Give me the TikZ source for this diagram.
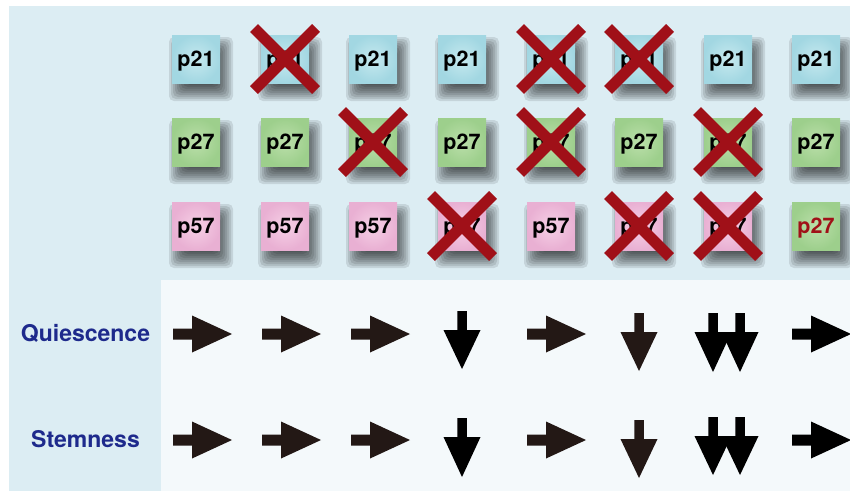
\documentclass[tikz,border=0pt]{standalone}
\usepackage{fontspec}
\setmainfont{TeX Gyre Heros}
\usetikzlibrary{calc}
\definecolor{bgblue}{HTML}{DCEDF3}
\definecolor{bglight}{HTML}{F4F9FB}
\definecolor{crossred}{RGB}{160,16,24}
\definecolor{labblue}{HTML}{1E2A8C}
\definecolor{arrdark}{HTML}{231815}
\definecolor{cyanin}{HTML}{C6E9EF}
\definecolor{cyanout}{HTML}{A2D7E2}
\definecolor{greenin}{HTML}{BBDFAA}
\definecolor{greenout}{HTML}{9DCF8C}
\definecolor{pinkin}{HTML}{F6D0E6}
\definecolor{pinkout}{HTML}{E9B0D3}
\tikzset{
  box/.style={shade, shading=radial, minimum width=48pt, minimum height=48pt, inner sep=0pt,
    text height=18pt, text depth=4pt, font=\fontsize{21.5}{25}\selectfont\bfseries},
  cyanbox/.style={box, inner color=cyanin, outer color=cyanout},
  greenbox/.style={box, inner color=greenin, outer color=greenout},
  pinkbox/.style={box, inner color=pinkin, outer color=pinkout},
  crossline/.style={draw=crossred, line width=11pt},
  lab/.style={text=labblue, font=\fontsize{23}{27}\selectfont\bfseries, inner sep=0pt, anchor=base},
}
\newcommand\pbx[5]{%
  \foreach \i in {0,...,11} {\fill[black,opacity=0.1,rounded corners=5pt] ({#2+5-32+2*\i},{#3+10-32+2*\i}) rectangle ({#2+5+32-2*\i},{#3+10+32-2*\i});}
  \node[#4] (#1) at (#2,#3) {#5};
}
\newcommand\xcross[1]{\draw[crossline] ($(#1)+(-31,-31)$) -- ($(#1)+(31,31)$) ($(#1)+(-31,31)$) -- ($(#1)+(31,-31)$);}
\newcommand\rarr[3]{\fill[#3] (#1,#2-5.5) -- (#1+19,#2-5.5) -- (#1+19,#2-18.5) -- (#1+59,#2) -- (#1+19,#2+18.5) -- (#1+19,#2+5.5) -- (#1,#2+5.5) -- cycle;}
\newcommand\darr[4]{\fill[#4] (#1-4.75,#2) -- (#1+4.75,#2) -- (#1+4.75,#2+19) -- (#1+18.5,#2+19) -- (#1,#2+#3) -- (#1-18.5,#2+19) -- (#1-4.75,#2+19) -- cycle;}
\begin{document}
\begin{tikzpicture}[x=1pt,y=-1pt]
\useasboundingbox (0,0) rectangle (850,491);
\fill[white] (0,0) rectangle (850,491);
\fill[bgblue] (9,6) rectangle (850,491);
\fill[bglight] (161,280) rectangle (850,491);
% row 1: p21
\pbx{a1}{196}{59}{cyanbox}{p21}
\pbx{a2}{285}{59}{cyanbox}{p21}
\pbx{a3}{373}{59}{cyanbox}{p21}
\pbx{a4}{462}{59}{cyanbox}{p21}
\pbx{a5}{551}{59}{cyanbox}{p21}
\pbx{a6}{639}{59}{cyanbox}{p21}
\pbx{a7}{728}{59}{cyanbox}{p21}
\pbx{a8}{816}{59}{cyanbox}{p21}
% row 2: p27
\pbx{b1}{196}{142}{greenbox}{p27}
\pbx{b2}{285}{142}{greenbox}{p27}
\pbx{b3}{373}{142}{greenbox}{p27}
\pbx{b4}{462}{142}{greenbox}{p27}
\pbx{b5}{551}{142}{greenbox}{p27}
\pbx{b6}{639}{142}{greenbox}{p27}
\pbx{b7}{728}{142}{greenbox}{p27}
\pbx{b8}{816}{142}{greenbox}{p27}
% row 3: p57
\pbx{c1}{196}{226}{pinkbox}{p57}
\pbx{c2}{285}{226}{pinkbox}{p57}
\pbx{c3}{373}{226}{pinkbox}{p57}
\pbx{c4}{462}{226}{pinkbox}{p57}
\pbx{c5}{551}{226}{pinkbox}{p57}
\pbx{c6}{639}{226}{pinkbox}{p57}
\pbx{c7}{728}{226}{pinkbox}{p57}
\pbx{c8}{816}{226}{greenbox,text=crossred}{p27}
% crosses
\xcross{a2}\xcross{a5}\xcross{a6}
\xcross{b3}\xcross{b5}\xcross{b7}
\xcross{c4}\xcross{c6}\xcross{c7}
% labels
\node[lab] (quies) at (85.5,341) {Quiescence};
\node[lab] (stem) at (85.5,447) {Stemness};
% quiescence arrows
\rarr{173}{334}{arrdark}
\rarr{262}{334}{arrdark}
\rarr{351}{334}{arrdark}
\darr{462}{311}{58}{black}
\rarr{527}{334}{arrdark}
\darr{639}{313}{58}{arrdark}
\darr{713}{313}{59}{black}
\darr{740}{313}{59}{black}
\rarr{792}{334}{black}
% stemness arrows
\rarr{173}{440}{arrdark}
\rarr{262}{440}{arrdark}
\rarr{351}{440}{arrdark}
\darr{462}{418}{59}{black}
\rarr{527}{440}{arrdark}
\darr{639}{420}{58}{arrdark}
\darr{713}{417}{58}{black}
\darr{740}{417}{58}{black}
\rarr{792}{440}{black}
\end{tikzpicture}
\end{document}
